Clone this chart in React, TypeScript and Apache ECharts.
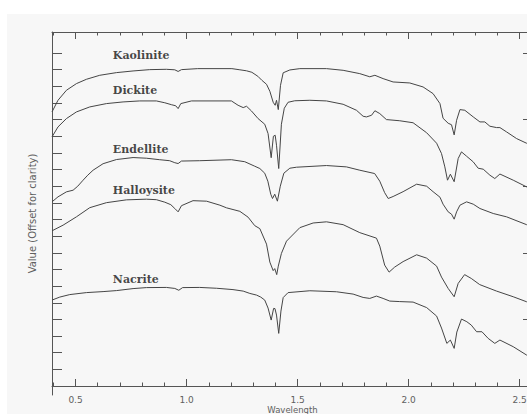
import React, { useEffect, useRef } from "react";
import * as echarts from "echarts";

// Reflectance spectra of kaolin-group minerals, stacked with vertical offsets.
// Each entry: [wavelength (µm), offset value]
const kaolinite: [number, number][] = [
  [0.394, 16.46], [0.421, 17.16], [0.459, 17.76], [0.504, 18.16], [0.549, 18.42],
  [0.609, 18.66], [0.684, 18.82], [0.759, 18.92], [0.834, 19.0], [0.909, 19.02],
  [0.947, 18.99], [0.962, 18.89], [0.977, 19.0], [1.05, 19.06], [1.204, 19.06],
  [1.24, 18.99], [1.27, 18.93], [1.294, 18.84], [1.321, 18.6], [1.339, 18.36],
  [1.36, 18.12], [1.375, 17.7], [1.39, 17.04], [1.399, 16.86], [1.405, 17.16],
  [1.413, 16.6], [1.423, 18.06], [1.435, 18.81], [1.465, 18.98], [1.51, 19.06],
  [1.63, 19.06], [1.705, 18.96], [1.78, 18.76], [1.825, 18.57], [1.848, 18.66],
  [1.885, 18.46], [1.93, 18.26], [2.005, 18.2], [2.065, 17.96], [2.11, 17.56],
  [2.141, 16.96], [2.155, 16.08], [2.178, 15.78], [2.193, 15.69], [2.205, 15.08],
  [2.216, 15.96], [2.231, 16.6], [2.253, 16.56], [2.291, 16.16], [2.321, 15.86],
  [2.343, 15.86], [2.366, 15.6], [2.396, 15.52], [2.411, 15.52], [2.441, 15.26],
  [2.486, 14.86], [2.531, 14.58], [2.56, 14.4],
];

const dickite: [number, number][] = [
  [0.394, 14.96], [0.421, 15.56], [0.459, 16.06], [0.504, 16.46], [0.564, 16.76],
  [0.639, 16.96], [0.714, 17.06], [0.789, 17.12], [0.864, 17.12], [0.902, 17.01],
  [0.933, 16.89], [0.951, 16.83], [0.962, 16.66], [0.974, 16.96], [1.022, 17.12],
  [1.202, 17.12], [1.232, 16.86], [1.255, 16.72], [1.27, 16.8], [1.292, 16.52],
  [1.322, 16.06], [1.352, 15.72], [1.367, 15.16], [1.381, 13.71], [1.391, 15.0],
  [1.399, 15.06], [1.405, 14.46], [1.415, 13.06], [1.427, 15.72], [1.44, 16.68],
  [1.457, 17.04], [1.487, 17.13], [1.555, 17.16], [1.63, 17.12], [1.705, 16.92],
  [1.765, 16.56], [1.795, 16.2], [1.81, 16.16], [1.833, 16.26], [1.848, 16.53],
  [1.87, 16.36], [1.9, 16.0], [1.96, 15.93], [2.02, 15.81], [2.081, 15.21],
  [2.126, 14.58], [2.148, 13.96], [2.163, 13.16], [2.175, 12.36], [2.188, 12.72],
  [2.205, 12.27], [2.223, 13.66], [2.238, 14.06], [2.261, 13.8], [2.291, 13.46],
  [2.313, 13.08], [2.336, 13.02], [2.366, 12.66], [2.388, 12.46], [2.411, 12.73],
  [2.471, 12.36], [2.531, 11.96], [2.56, 11.79],
];

const endellite: [number, number][] = [
  [0.394, 11.06], [0.421, 11.36], [0.459, 11.66], [0.489, 11.76], [0.51, 12.0],
  [0.534, 12.36], [0.555, 12.66], [0.579, 12.96], [0.624, 13.35], [0.684, 13.6],
  [0.759, 13.72], [0.819, 13.68], [0.879, 13.59], [0.924, 13.53], [0.947, 13.41],
  [0.962, 13.36], [0.977, 13.51], [1.059, 13.53], [1.202, 13.59], [1.262, 13.47],
  [1.307, 13.2], [1.33, 13.06], [1.352, 12.78], [1.366, 12.3], [1.379, 11.52],
  [1.387, 11.26], [1.397, 11.52], [1.409, 11.1], [1.422, 12.0], [1.438, 12.78],
  [1.465, 13.08], [1.495, 13.14], [1.63, 13.24], [1.72, 13.16], [1.78, 12.96],
  [1.847, 12.76], [1.87, 12.3], [1.892, 11.61], [1.908, 11.26], [1.93, 11.38],
  [1.975, 11.67], [2.036, 12.12], [2.081, 12.0], [2.11, 11.67], [2.141, 11.34],
  [2.155, 10.92], [2.178, 10.46], [2.193, 10.32], [2.205, 10.02], [2.216, 10.46],
  [2.231, 10.86], [2.261, 11.06], [2.291, 10.92], [2.321, 10.66], [2.381, 10.36],
  [2.441, 10.16], [2.531, 9.69], [2.56, 9.51],
];

const halloysite: [number, number][] = [
  [0.394, 9.32], [0.444, 9.66], [0.504, 10.16], [0.564, 10.71], [0.639, 11.01],
  [0.729, 11.18], [0.819, 11.22], [0.864, 11.19], [0.902, 11.04], [0.929, 10.89],
  [0.947, 10.66], [0.962, 10.46], [0.977, 10.83], [1.029, 11.13], [1.09, 11.1],
  [1.15, 10.86], [1.18, 10.7], [1.24, 10.49], [1.277, 10.14], [1.307, 9.63],
  [1.33, 9.45], [1.36, 8.52], [1.375, 7.44], [1.39, 6.93], [1.397, 7.05],
  [1.406, 6.69], [1.413, 7.2], [1.427, 7.96], [1.45, 8.7], [1.51, 9.51],
  [1.57, 9.79], [1.63, 9.86], [1.705, 9.69], [1.78, 9.21], [1.855, 8.88],
  [1.87, 8.4], [1.892, 7.26], [1.912, 6.84], [1.937, 7.14], [1.975, 7.47],
  [2.036, 7.88], [2.081, 7.68], [2.126, 7.2], [2.148, 6.54], [2.178, 5.86],
  [2.205, 5.36], [2.223, 6.16], [2.252, 6.69], [2.282, 6.46], [2.32, 6.09],
  [2.396, 5.7], [2.471, 5.36], [2.531, 5.06], [2.56, 4.89],
];

const nacrite: [number, number][] = [
  [0.394, 5.16], [0.429, 5.34], [0.474, 5.49], [0.549, 5.61], [0.624, 5.67],
  [0.684, 5.73], [0.759, 5.85], [0.819, 5.91], [0.909, 5.92], [0.947, 5.86],
  [0.965, 5.75], [0.982, 5.91], [1.059, 5.92], [1.135, 5.87], [1.209, 5.79],
  [1.255, 5.7], [1.285, 5.56], [1.315, 5.46], [1.334, 5.34], [1.352, 5.16],
  [1.367, 4.68], [1.381, 3.96], [1.392, 4.66], [1.398, 4.65], [1.405, 4.26],
  [1.415, 3.16], [1.425, 4.5], [1.435, 5.31], [1.457, 5.61], [1.555, 5.72],
  [1.675, 5.66], [1.75, 5.52], [1.795, 5.32], [1.825, 5.26], [1.855, 5.4],
  [1.885, 5.26], [1.915, 5.1], [1.96, 5.07], [2.02, 5.04], [2.081, 4.71],
  [2.126, 4.2], [2.148, 3.48], [2.172, 2.56], [2.188, 2.76], [2.205, 2.26],
  [2.217, 3.24], [2.238, 4.02], [2.262, 3.86], [2.282, 3.66], [2.306, 3.26],
  [2.33, 3.26], [2.358, 2.86], [2.388, 2.56], [2.411, 2.76], [2.471, 2.36],
  [2.531, 1.86], [2.56, 1.65],
];

const mineralNames = ["Kaolinite", "Dickite", "Endellite", "Halloysite", "Nacrite"];
const spectra = [kaolinite, dickite, endellite, halloysite, nacrite];

// Where each mineral's name sits, in data units (wavelength, value)
const nameWavelength = 0.668;
const nameLevels = [19.86, 17.72, 14.18, 11.72, 6.42];

// Axis ticks
const xMajorTicks = [0.5, 1.0, 1.5, 2.0, 2.5];
const xMinorTicks = [
  0.4, 0.6, 0.7, 0.8, 0.9, 1.1, 1.2, 1.3, 1.4, 1.6, 1.7, 1.8, 1.9, 2.1, 2.2, 2.3, 2.4,
];
const yTicks = [0, 1, 2, 3, 4, 5, 6, 7, 8, 9, 10, 11, 12, 13, 14, 15, 16, 17, 18, 19, 20];
const yRightTicks = [0, 4, 8, 12, 16, 20];

const X_MIN = 0.394;
const X_MAX = 2.56;
const Y_MIN = -0.54;
const Y_MAX = 21.26;

const AXIS_COLOR = "#555555";
const TEXT_COLOR = "#606060";
const LINE_COLOR = "#454545";
const SANS = "DejaVu Sans";

function xAxisDef(position: "top" | "bottom", ticks: number[], len: number, main: boolean) {
  return {
    type: "value",
    position,
    min: X_MIN,
    max: X_MAX,
    axisLine: { show: main, lineStyle: { color: AXIS_COLOR, width: 1 } },
    axisTick: {
      show: true,
      inside: true,
      length: len,
      customValues: ticks,
      lineStyle: { color: AXIS_COLOR, width: 1 },
    },
    axisLabel:
      main && position === "bottom"
        ? {
            show: true,
            customValues: xMajorTicks,
            formatter: (v: number) => Number(v).toFixed(1),
            color: TEXT_COLOR,
            fontFamily: SANS,
            fontSize: 9,
            lineHeight: 8,
            margin: 1,
          }
        : { show: false },
    splitLine: { show: false },
    ...(main && position === "bottom"
      ? {
          name: "Wavelength",
          nameLocation: "middle",
          nameGap: 10.5,
          nameMoveOverlap: false,
          nameTextStyle: { color: TEXT_COLOR, fontFamily: SANS, fontSize: 8.5, lineHeight: 8 },
        }
      : {}),
  };
}

export default function App() {
  const ref = useRef<HTMLDivElement>(null);

  useEffect(() => {
    if (!ref.current) return;
    const chart = echarts.init(ref.current, undefined, { renderer: "svg" });

    const lineSeries = spectra.map((d, i) => ({
      type: "line",
      name: mineralNames[i],
      data: d,
      xAxisIndex: 0,
      yAxisIndex: 0,
      symbol: "none",
      showSymbol: false,
      silent: true,
      lineStyle: { color: LINE_COLOR, width: 1 },
    }));

    const nameSeries = {
      type: "scatter",
      xAxisIndex: 0,
      yAxisIndex: 0,
      symbolSize: 0,
      silent: true,
      data: mineralNames.map((n, i) => ({ name: n, value: [nameWavelength, nameLevels[i]] })),
      label: {
        show: true,
        position: "right",
        distance: 0,
        formatter: "{b}",
        fontFamily: "DejaVu Serif",
        fontWeight: "bold",
        fontSize: 11,
        color: "#151515",
      },
    };

    chart.setOption({
      animation: false,
      backgroundColor: "transparent",
      grid: { left: 52, top: 32, right: 7, bottom: 19, containLabel: false, outerBoundsMode: "none" },
      xAxis: [
        xAxisDef("bottom", xMajorTicks, 7, true),
        xAxisDef("bottom", xMinorTicks, 3.5, false),
        xAxisDef("top", xMajorTicks, 7, true),
        xAxisDef("top", xMinorTicks, 3.5, false),
      ],
      yAxis: [
        {
          type: "value",
          position: "left",
          min: Y_MIN,
          max: Y_MAX,
          axisLine: { show: true, lineStyle: { color: AXIS_COLOR, width: 1 } },
          axisTick: {
            show: true,
            inside: true,
            length: 10,
            customValues: yTicks,
            lineStyle: { color: AXIS_COLOR, width: 1 },
          },
          axisLabel: { show: false },
          splitLine: { show: false },
          name: "Value (Offset for clarity)",
          nameLocation: "middle",
          nameGap: 15,
          nameMoveOverlap: false,
          nameTextStyle: { color: TEXT_COLOR, fontFamily: SANS, fontSize: 10 },
        },
        {
          type: "value",
          position: "right",
          min: Y_MIN,
          max: Y_MAX,
          axisLine: { show: true, lineStyle: { color: AXIS_COLOR, width: 1 } },
          axisTick: {
            show: true,
            inside: true,
            length: 10,
            customValues: yRightTicks,
            lineStyle: { color: AXIS_COLOR, width: 1 },
          },
          axisLabel: { show: false },
          splitLine: { show: false },
        },
      ],
      series: [...lineSeries, nameSeries],
    });

    return () => chart.dispose();
  }, []);

  return (
    <div
      style={{
        position: "fixed",
        left: 0,
        top: 0,
        width: 527,
        height: 414,
        overflow: "hidden",
        background: "#ffffff",
      }}
    >
      <div
        style={{
          position: "absolute",
          left: 7,
          top: 14,
          right: 0,
          bottom: 0,
          background: "#f7f7f7",
        }}
      />
      <div ref={ref} style={{ position: "absolute", left: 0, top: 0, width: 540, height: 414 }} />
    </div>
  );
}
